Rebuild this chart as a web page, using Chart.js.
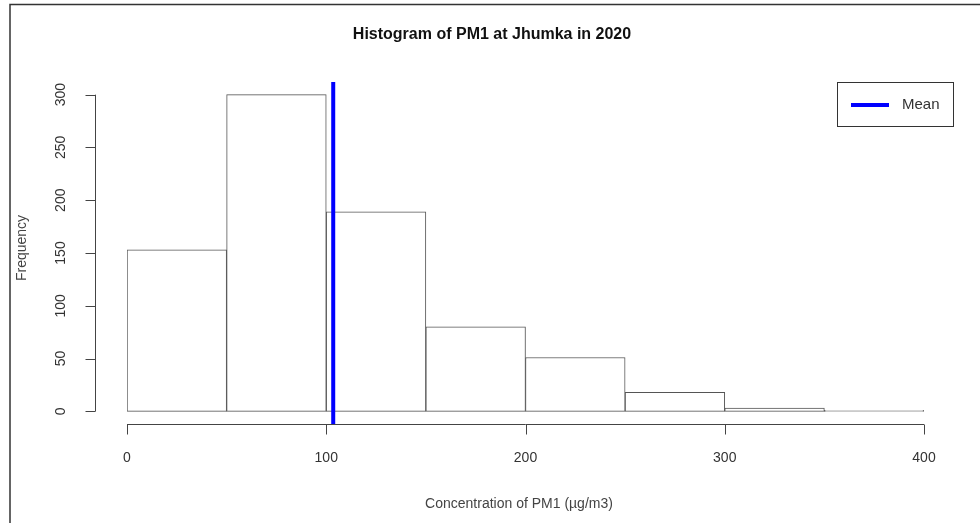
<!DOCTYPE html>
<html>
<head>
<meta charset="utf-8">
<script src="https://cdn.jsdelivr.net/npm/chart.js@4/dist/chart.umd.min.js"></script>
<style>
  html, body { margin: 0; padding: 0; background: #fff; }
  #wrap { width: 980px; height: 523px; position: relative; }
</style>
</head>
<body>
<div id="wrap"><canvas id="myChart" width="980" height="523"></canvas></div>
<script>
// histogram bins and counts
var binLabels = ['0-50', '50-100', '100-150', '150-200', '200-250', '250-300', '300-350', '350-400'];
var counts = [153, 300, 189, 80, 51, 18, 3, 1];
var meanValue = 103.5;
var xTicks = [0, 100, 200, 300, 400];
var yTicks = [0, 50, 100, 150, 200, 250, 300];

var font = '"Liberation Sans", Arial, sans-serif';

// R style axes, title, frame and legend
var rStyle = {
    id: 'rStyle',
    beforeDraw: function(chart) {
        var c = chart.ctx;
        c.save();
        c.fillStyle = '#fff';
        c.fillRect(0, 0, chart.width, chart.height);
        c.strokeStyle = '#333';
        c.lineWidth = 1.5;
        c.beginPath();
        c.moveTo(10, chart.height);
        c.lineTo(10, 4.5);
        c.lineTo(chart.width, 4.5);
        c.stroke();
        c.restore();
    },
    afterDraw: function(chart) {
        var c = chart.ctx;
        var xs = chart.scales.x2, ys = chart.scales.y;
        c.save();
        c.strokeStyle = '#444';
        c.lineWidth = 1;
        c.fillStyle = '#333';
        c.font = '14px ' + font;

        // x axis, sits at the bottom of the plot region (y = -12)
        var yb = Math.round(ys.getPixelForValue(ys.min)) + 0.5;
        c.beginPath();
        c.moveTo(xs.getPixelForValue(xTicks[0]), yb);
        c.lineTo(xs.getPixelForValue(xTicks[xTicks.length - 1]), yb);
        xTicks.forEach(function(t) {
            var px = Math.round(xs.getPixelForValue(t)) + 0.5;
            c.moveTo(px, yb);
            c.lineTo(px, yb + 10);
        });
        c.stroke();
        c.textAlign = 'center';
        c.textBaseline = 'middle';
        xTicks.forEach(function(t) {
            c.fillText(String(t), xs.getPixelForValue(t), 458);
        });

        // y axis, at the left of the plot region (x = -16)
        var xl = Math.round(xs.getPixelForValue(-16)) + 0.5;
        c.beginPath();
        c.moveTo(xl, ys.getPixelForValue(yTicks[0]));
        c.lineTo(xl, ys.getPixelForValue(yTicks[yTicks.length - 1]));
        yTicks.forEach(function(t) {
            var py = Math.round(ys.getPixelForValue(t)) + 0.5;
            c.moveTo(xl, py);
            c.lineTo(xl - 10, py);
        });
        c.stroke();
        yTicks.forEach(function(t) {
            c.save();
            c.translate(61, ys.getPixelForValue(t));
            c.rotate(-Math.PI / 2);
            c.fillText(String(t), 0, 0);
            c.restore();
        });

        // axis titles
        c.fillStyle = '#444';
        c.fillText('Concentration of PM1 (µg/m3)', 519, 504);
        c.save();
        c.translate(22, 248);
        c.rotate(-Math.PI / 2);
        c.fillText('Frequency', 0, 0);
        c.restore();

        // main title
        c.fillStyle = '#111';
        c.font = 'bold 16px ' + font;
        c.fillText('Histogram of PM1 at Jhumka in 2020', 492, 35);

        // legend
        c.strokeStyle = '#333';
        c.strokeRect(837.5, 82.5, 116, 44);
        c.strokeStyle = chart.data.datasets[1].borderColor;
        c.lineWidth = 4;
        c.beginPath();
        c.moveTo(851, 105);
        c.lineTo(889, 105);
        c.stroke();
        c.fillStyle = '#333';
        c.font = '15px ' + font;
        c.textAlign = 'left';
        c.fillText(chart.data.datasets[1].label, 902, 105);
        c.restore();
    }
};

var ctx = document.getElementById('myChart').getContext('2d');
var chart = new Chart(ctx, {
    type: 'bar',
    data: {
        labels: binLabels,
        datasets: [{
            label: 'Counts',
            data: counts,
            backgroundColor: '#fff',
            borderColor: '#555',
            borderWidth: 1,
            borderSkipped: false,
            barPercentage: 1,
            categoryPercentage: 1,
            grouped: false,
            order: 2
        }, {
            type: 'line',
            label: 'Mean',
            xAxisID: 'x2',
            data: [{x: meanValue, y: -12}, {x: meanValue, y: 312}],
            borderColor: '#0000ff',
            borderWidth: 4,
            pointRadius: 0,
            fill: false,
            clip: false,
            order: 1
        }]
    },
    options: {
        responsive: false,
        animation: false,
        layout: {padding: {left: 127, right: 56, top: 82, bottom: 99}},
        plugins: {
            legend: {display: false},
            title: {display: false},
            tooltip: {enabled: false}
        },
        scales: {
            x: {type: 'category', display: false, offset: true},
            // numeric axis over the same span, used for the mean line and tick marks
            x2: {type: 'linear', display: false, min: 0, max: 400, offset: false},
            y: {type: 'linear', display: false, min: -12, max: 312}
        }
    },
    plugins: [rStyle]
});
</script>
</body>
</html>
